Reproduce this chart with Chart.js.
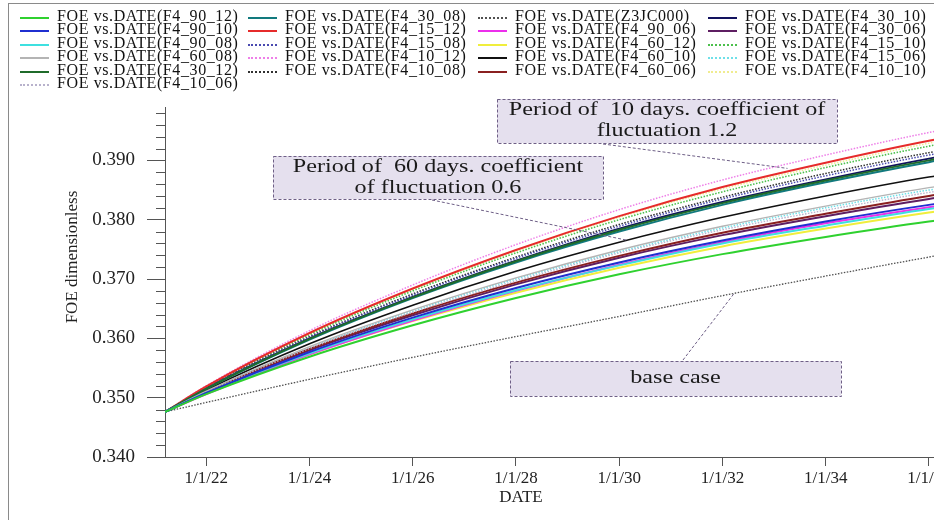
<!DOCTYPE html>
<html>
<head>
<meta charset="utf-8">
<script src="https://cdn.jsdelivr.net/npm/chart.js@4.4.1/dist/chart.umd.min.js"></script>
<style>
  html, body { margin:0; padding:0; background:#fff; }
  #wrap { position:relative; width:934px; height:520px; overflow:hidden; }
  #frame { position:absolute; left:8px; top:3px; right:-2px; bottom:-2px; border-left:1px solid #8a8a8a; border-top:1px solid #8a8a8a; pointer-events:none; }
  #chart { position:absolute; left:0; top:0; }
  #legend { position:absolute; left:0; top:0; width:934px; height:100px;
    font-family:"Liberation Serif","Times New Roman",serif; font-size:16px; letter-spacing:0.6px; color:#111; }
  .lg { position:absolute; height:14px; line-height:14px; white-space:nowrap; }
  .lg .smp { position:absolute; left:0; top:7px; width:29px; height:0; }
  .lg .txt { position:absolute; left:37px; top:-1px; }
</style>
</head>
<body>
<div id="wrap">
  <canvas id="chart" width="1000" height="520"></canvas>
  <div id="legend"></div>
  <div id="frame"></div>
</div>
<script>
// dates as decimal years (first point = start of the run)
const years = [2021.2, 2022, 2024, 2026, 2028, 2030, 2032, 2034, 2036, 2037.3];
const xTickYears = [2022, 2024, 2026, 2028, 2030, 2032, 2034, 2036];
const xTickLabels = ['1/1/22', '1/1/24', '1/1/26', '1/1/28', '1/1/30', '1/1/32', '1/1/34', '1/1/36'];
const yTickLabels = ['0.340', '0.350', '0.360', '0.370', '0.380', '0.390'];

// FOE (dimensionless) per case
const foe_F4_90_12 = [0.3476, 0.3506, 0.3569, 0.3622, 0.3668, 0.3708, 0.3742, 0.3771, 0.3797, 0.3811];
const foe_F4_90_10 = [0.3476, 0.3508, 0.3577, 0.3635, 0.3685, 0.3728, 0.3765, 0.3797, 0.3825, 0.3840];
const foe_F4_90_08 = [0.3476, 0.3508, 0.3575, 0.3632, 0.3681, 0.3723, 0.3760, 0.3790, 0.3818, 0.3833];
const foe_F4_60_08 = [0.3476, 0.3511, 0.3586, 0.3648, 0.3702, 0.3749, 0.3789, 0.3823, 0.3854, 0.3871];
const foe_F4_30_12 = [0.3476, 0.3515, 0.3599, 0.3669, 0.3730, 0.3783, 0.3828, 0.3866, 0.3900, 0.3919];
const foe_F4_10_06 = [0.3476, 0.3510, 0.3583, 0.3644, 0.3697, 0.3744, 0.3783, 0.3816, 0.3846, 0.3862];
const foe_F4_30_08 = [0.3476, 0.3515, 0.3598, 0.3668, 0.3728, 0.3780, 0.3825, 0.3863, 0.3897, 0.3916];
const foe_F4_15_12 = [0.3476, 0.3519, 0.3609, 0.3684, 0.3749, 0.3806, 0.3855, 0.3896, 0.3933, 0.3953];
const foe_F4_15_08 = [0.3476, 0.3516, 0.3602, 0.3673, 0.3735, 0.3789, 0.3835, 0.3874, 0.3909, 0.3928];
const foe_F4_10_12 = [0.3476, 0.3520, 0.3613, 0.3690, 0.3758, 0.3817, 0.3867, 0.3909, 0.3947, 0.3968];
const foe_F4_10_08 = [0.3476, 0.3517, 0.3603, 0.3675, 0.3737, 0.3792, 0.3838, 0.3878, 0.3913, 0.3932];
const foe_Z3JC000  = [0.3476, 0.3492, 0.3531, 0.3568, 0.3603, 0.3637, 0.3672, 0.3705, 0.3737, 0.3757];
const foe_F4_90_06 = [0.3476, 0.3506, 0.3573, 0.3630, 0.3680, 0.3724, 0.3762, 0.3794, 0.3821, 0.3837];
const foe_F4_60_12 = [0.3476, 0.3507, 0.3573, 0.3629, 0.3677, 0.3719, 0.3755, 0.3785, 0.3812, 0.3827];
const foe_F4_60_10 = [0.3476, 0.3513, 0.3591, 0.3656, 0.3713, 0.3762, 0.3804, 0.3840, 0.3872, 0.3889];
const foe_F4_60_06 = [0.3476, 0.3510, 0.3582, 0.3642, 0.3694, 0.3739, 0.3778, 0.3810, 0.3840, 0.3856];
const foe_F4_30_10 = [0.3476, 0.3516, 0.3600, 0.3670, 0.3731, 0.3785, 0.3830, 0.3868, 0.3903, 0.3922];
const foe_F4_30_06 = [0.3476, 0.3509, 0.3580, 0.3639, 0.3691, 0.3736, 0.3774, 0.3806, 0.3835, 0.3851];
const foe_F4_15_10 = [0.3476, 0.3518, 0.3606, 0.3680, 0.3744, 0.3800, 0.3847, 0.3888, 0.3924, 0.3944];
const foe_F4_15_06 = [0.3476, 0.3511, 0.3584, 0.3646, 0.3700, 0.3746, 0.3786, 0.3820, 0.3850, 0.3866];
const foe_F4_10_10 = [0.3476, 0.3518, 0.3607, 0.3682, 0.3747, 0.3804, 0.3852, 0.3892, 0.3929, 0.3949];

// legend order (column by column, as in the picture)
const caseNames = ['F4_90_12','F4_90_10','F4_90_08','F4_60_08','F4_30_12','F4_10_06',
  'F4_30_08','F4_15_12','F4_15_08','F4_10_12','F4_10_08',
  'Z3JC000','F4_90_06','F4_60_12','F4_60_10','F4_60_06',
  'F4_30_10','F4_30_06','F4_15_10','F4_15_06','F4_10_10'];
const caseValues = [foe_F4_90_12, foe_F4_90_10, foe_F4_90_08, foe_F4_60_08, foe_F4_30_12, foe_F4_10_06,
  foe_F4_30_08, foe_F4_15_12, foe_F4_15_08, foe_F4_10_12, foe_F4_10_08,
  foe_Z3JC000, foe_F4_90_06, foe_F4_60_12, foe_F4_60_10, foe_F4_60_06,
  foe_F4_30_10, foe_F4_30_06, foe_F4_15_10, foe_F4_15_06, foe_F4_10_10];
const caseColors = ['#2fd12f','#1f2fd0','#3ee0e0','#b4b4b4','#1f6b2a','#b8b2cc',
  '#127a7e','#e62b2b','#4a4ab0','#ee7fe8','#303030',
  '#505050','#ec2fec','#f0ee3c','#111111','#8a2020',
  '#12125e','#5e1e62','#4cc04c','#6fe0e8','#f0ec90'];
const caseDotted = [false,false,false,false,false,true,
  false,false,true,true,true,
  true,false,false,false,false,
  false,false,true,true,true];
const caseWidth = [2,2,2,1.4,2,1.4, 2,2,1.5,1.5,1.5, 1.3,2,2,1.6,2, 2,2,1.6,1.5,1.5];

const SERIF = '"Liberation Serif","Times New Roman",serif';

// annotation boxes: [x0, y0, x1, y1] in px, text lines, leader start px, leader end in data units
const notes = [
  { box:[497, 99, 837, 143], lines:['Period of  10 days. coefficient of', 'fluctuation 1.2'], from:[603, 144], to:[2033.26, 0.38865] },
  { box:[273, 156, 603, 199], lines:['Period of  60 days. coefficient', 'of fluctuation 0.6'], from:[432, 200], to:[2030.16, 0.37653] },
  { box:[510, 361, 841, 396], lines:['base case'], from:[683, 360], to:[2032.23, 0.36761] }
];

const isMajor = v => Math.round(v * 1000) % 10 === 0;

const decorPlugin = {
  id: 'decor',
  afterDraw(chart) {
    const ctx = chart.ctx, xs = chart.scales.x, ys = chart.scales.y;
    const left = chart.chartArea.left, bottom = chart.chartArea.bottom;
    ctx.save();
    // minor ticks on y
    ctx.strokeStyle = '#555'; ctx.lineWidth = 1;
    ys.ticks.forEach(t => {
      if (isMajor(t.value)) return;
      const y = Math.round(ys.getPixelForValue(t.value)) + 0.5;
      ctx.beginPath(); ctx.moveTo(left - 9, y); ctx.lineTo(left, y); ctx.stroke();
    });
    // x axis line runs a bit past the y axis
    ctx.beginPath(); ctx.moveTo(left - 18, Math.round(bottom) + 0.5); ctx.lineTo(left, Math.round(bottom) + 0.5); ctx.stroke();
    // axis titles
    ctx.fillStyle = '#222'; ctx.textAlign = 'center'; ctx.textBaseline = 'middle';
    ctx.font = '17px ' + SERIF;
    ctx.fillText('DATE', 521, 498);
    ctx.save();
    ctx.translate(73, 257); ctx.rotate(-Math.PI / 2);
    ctx.fillText('FOE dimensionless', 0, 0);
    ctx.restore();
    // notes
    notes.forEach(n => {
      const [x0, y0, x1, y1] = n.box;
      ctx.setLineDash([3, 2]); ctx.strokeStyle = '#6e5f86'; ctx.lineWidth = 1;
      ctx.beginPath();
      ctx.moveTo(n.from[0], n.from[1]);
      ctx.lineTo(xs.getPixelForValue(n.to[0]), ys.getPixelForValue(n.to[1]));
      ctx.stroke();
      ctx.fillStyle = '#e5e0ee';
      ctx.fillRect(x0, y0, x1 - x0, y1 - y0);
      ctx.strokeRect(x0 + 0.5, y0 + 0.5, x1 - x0, y1 - y0);
      ctx.setLineDash([]);
      ctx.fillStyle = '#1a1a1a'; ctx.font = '19px ' + SERIF;
      const cx = (x0 + x1) / 2, cy = (y0 + y1) / 2, lh = 21;
      n.lines.forEach((s, i) => {
        ctx.save();
        ctx.translate(cx, cy + (i - (n.lines.length - 1) / 2) * lh);
        ctx.scale(1.27, 1);
        ctx.fillText(s, 0, 0);
        ctx.restore();
      });
    });
    ctx.restore();
  }
};

const datasets = caseNames.map((name, i) => ({
  label: 'FOE vs.DATE(' + name + ')',
  data: years.map((yr, k) => ({ x: yr, y: caseValues[i][k] })),
  borderColor: caseColors[i],
  borderWidth: caseWidth[i],
  borderDash: caseDotted[i] ? [1.5, 1.5] : [],
  pointRadius: 0,
  fill: false,
  cubicInterpolationMode: 'monotone'
}));

new Chart(document.getElementById('chart'), {
  type: 'line',
  data: { datasets },
  plugins: [decorPlugin],
  options: {
    responsive: false,
    animation: false,
    devicePixelRatio: 1,
    layout: { padding: { top: 107, right: 4, left: 0, bottom: 0 } },
    plugins: { legend: { display: false }, tooltip: { enabled: false } },
    scales: {
      x: {
        type: 'linear', min: 2021.2, max: 2037.3,
        afterBuildTicks: s => { s.ticks = xTickYears.map(v => ({ value: v })); },
        afterFit: s => { s.height = 63; },
        ticks: {
          autoSkip: false, maxRotation: 0, padding: 2, color: '#222',
          font: { family: SERIF, size: 17 },
          callback: v => xTickLabels[xTickYears.indexOf(v)] ?? ''
        },
        grid: { drawOnChartArea: false, tickLength: 9, tickColor: '#555' },
        border: { color: '#555', width: 1 }
      },
      y: {
        min: 0.340, max: 0.399,
        afterBuildTicks: s => {
          const t = [];
          for (let i = 0; i <= 29; i++) t.push({ value: Math.round((0.340 + i * 0.002) * 1000) / 1000 });
          s.ticks = t;
        },
        afterFit: s => { s.width = 165; },
        ticks: {
          autoSkip: false, padding: 12, color: '#222',
          font: { family: SERIF, size: 19 },
          callback: v => isMajor(v) ? (yTickLabels.find(l => Math.abs(parseFloat(l) - v) < 1e-6) ?? '') : ''
        },
        grid: {
          drawOnChartArea: false, tickLength: 18,
          tickColor: c => (c.tick && isMajor(c.tick.value)) ? '#555' : 'rgba(0,0,0,0)'
        },
        border: { color: '#555', width: 1 }
      }
    }
  }
});

// legend laid out in four columns like the original
const legendColX = [20, 248, 478, 708];
const legendColCount = [6, 5, 5, 5];
const lg = document.getElementById('legend');
let idx = 0;
legendColCount.forEach((n, c) => {
  for (let r = 0; r < n; r++, idx++) {
    const item = document.createElement('div');
    item.className = 'lg';
    item.style.left = legendColX[c] + 'px';
    item.style.top = (10 + r * 13.45) + 'px';
    const smp = document.createElement('div');
    smp.className = 'smp';
    smp.style.borderTop = (caseDotted[idx] ? '2px dotted ' : '2.5px solid ') + caseColors[idx];
    const txt = document.createElement('span');
    txt.className = 'txt';
    txt.textContent = 'FOE vs.DATE(' + caseNames[idx] + ')';
    item.appendChild(smp); item.appendChild(txt);
    lg.appendChild(item);
  }
});
</script>
</body>
</html>
